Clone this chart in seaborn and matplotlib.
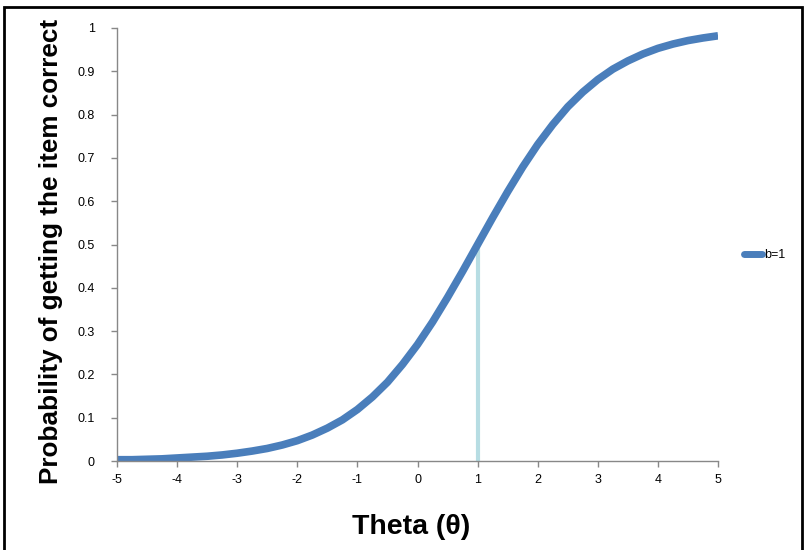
import matplotlib
matplotlib.use("Agg")
import matplotlib.pyplot as plt
import seaborn as sns
import pandas as pd
from matplotlib.patches import Rectangle

# Item characteristic curve
theta = [-5.0, -4.75, -4.5, -4.25, -4.0, -3.75, -3.5, -3.25, -3.0, -2.75,
         -2.5, -2.25, -2.0, -1.75, -1.5, -1.25, -1.0, -0.75, -0.5, -0.25,
         0.0, 0.25, 0.5, 0.75, 1.0, 1.25, 1.5, 1.75, 2.0, 2.25,
         2.5, 2.75, 3.0, 3.25, 3.5, 3.75, 4.0, 4.25, 4.5, 4.75, 5.0]
prob = [0.003, 0.003, 0.004, 0.005, 0.007, 0.009, 0.011, 0.014, 0.018, 0.023,
        0.029, 0.037, 0.047, 0.060, 0.076, 0.095, 0.119, 0.148, 0.182, 0.223,
        0.269, 0.321, 0.378, 0.438, 0.500, 0.562, 0.622, 0.679, 0.731, 0.777,
        0.818, 0.852, 0.881, 0.905, 0.924, 0.940, 0.953, 0.963, 0.971, 0.977, 0.982]
b_value = 1
b_prob = 0.5

x_ticks = [-5, -4, -3, -2, -1, 0, 1, 2, 3, 4, 5]
y_ticks = [0, 0.1, 0.2, 0.3, 0.4, 0.5, 0.6, 0.7, 0.8, 0.9, 1]
y_labels = ["0", "0.1", "0.2", "0.3", "0.4", "0.5", "0.6", "0.7", "0.8", "0.9", "1"]

df = pd.DataFrame({"theta": theta, "p": prob, "series": "b=1"})

sns.set_style("white")
plt.rcParams["font.family"] = ["Liberation Sans", "DejaVu Sans"]
plt.rcParams["text.color"] = "black"
plt.rcParams["axes.labelcolor"] = "black"

fig = plt.figure(figsize=(8.05, 5.5), dpi=100)
ax = fig.add_axes([0.1453, 0.1618, 0.7467, 0.7873])

# marker line at b
ax.plot([b_value, b_value], [0, b_prob], color="#b7dde3", lw=3, zorder=1)
sns.lineplot(data=df, x="theta", y="p", hue="series", palette=["#4a7ebb"],
             lw=5.5, ax=ax, zorder=2, solid_capstyle="butt")

ax.set_xlim(-5, 5)
ax.set_ylim(0, 1)
ax.set_xticks(x_ticks)
ax.set_xticklabels([str(t) for t in x_ticks])
ax.set_yticks(y_ticks)
ax.set_yticklabels(y_labels)
ax.tick_params(axis="both", length=4, width=1, color="#888888", labelsize=9,
               labelcolor="black", direction="out", bottom=True, left=True)
ax.tick_params(axis="y", pad=12)
ax.tick_params(axis="x", pad=5)
for side in ["top", "right"]:
    ax.spines[side].set_visible(False)
for side in ["left", "bottom"]:
    ax.spines[side].set_color("#888888")
    ax.spines[side].set_linewidth(1)

ax.set_xlabel("Theta (θ)", fontsize=20.5, fontweight="bold")
ax.set_ylabel("Probability of getting the item correct", fontsize=18.8,
              fontweight="bold")
ax.xaxis.set_label_coords(0.489, -0.122)
ax.yaxis.set_label_coords(-0.089, 0.483)

leg = ax.legend(loc="center left", bbox_to_anchor=(1.025, 0.475), frameon=False,
                handlelength=1.4, handletextpad=0.15, fontsize=9)
for h in leg.get_lines():
    h.set_linewidth(5)
    h.set_solid_capstyle("round")

fig.patches.append(Rectangle((4 / 805, -0.01), 798 / 805, 1 - 7 / 550 + 0.01,
                             transform=fig.transFigure, fill=False,
                             edgecolor="black", lw=2))

fig.savefig("out.png", dpi=100)
